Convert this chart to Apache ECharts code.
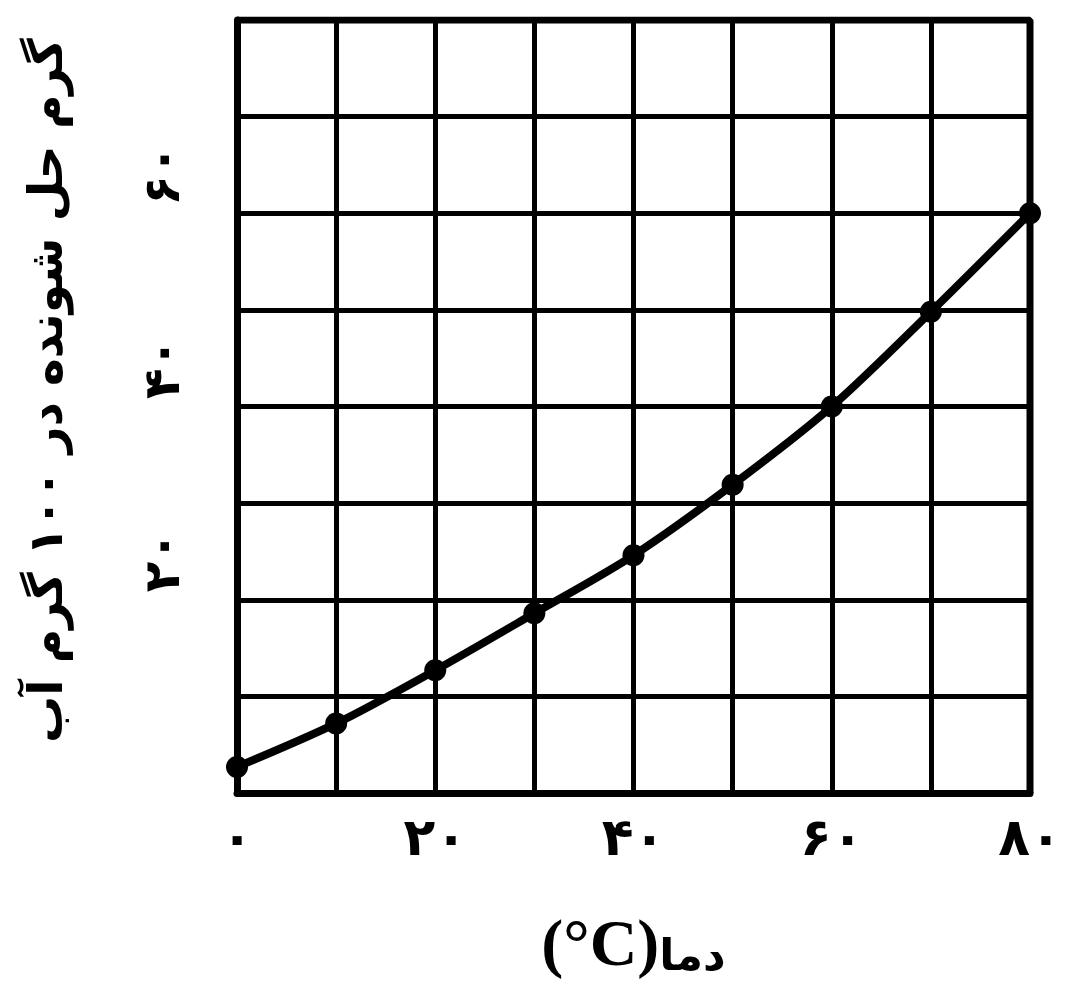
<!DOCTYPE html>
<html>
<head>
<meta charset="utf-8">
<script src="https://cdn.jsdelivr.net/npm/echarts@6/dist/echarts.min.js"></script>
<style>
  html, body { margin: 0; padding: 0; background: #fff; }
  #chart { width: 1089px; height: 992px; }
</style>
</head>
<body>
<div id="chart"></div>
<script>
  // دما (°C)
  var temps = [0, 10, 20, 30, 40, 50, 60, 70, 80];
  // گرم حل شونده در ۱۰۰ گرم آب
  var solubility = [2.7, 7.2, 12.7, 18.6, 24.6, 31.9, 40, 49.8, 60];
  // برچسب محورها (ارقام فارسی)
  var xTickLabels = {0: '۰', 20: '۲۰', 40: '۴۰', 60: '۶۰', 80: '۸۰'};
  var yTickLabels = {20: '۲۰', 40: '۴۰', 60: '۶۰'};

  var chart = echarts.init(document.getElementById('chart'));

  var option = {
    backgroundColor: '#fff',
    animation: false,
    grid: {left: 237, right: 59, top: 20, bottom: 199},
    xAxis: {
      type: 'value',
      min: 0,
      max: 80,
      interval: 10,
      name: '{a|(°C)}{b|دما}',
      nameLocation: 'middle',
      nameGap: 122,
      nameTextStyle: {
        rich: {
          a: {fontFamily: 'Liberation Serif', fontWeight: 'bold', fontSize: 66, color: '#000'},
          b: {fontFamily: 'DejaVu Sans', fontWeight: 'bold', fontSize: 44, color: '#000', verticalAlign: 'bottom'}
        }
      },
      axisLine: {show: true, lineStyle: {color: '#000', width: 7}},
      axisTick: {show: false},
      splitLine: {show: true, lineStyle: {color: '#000', width: 5}},
      axisLabel: {
        margin: 22,
        fontFamily: 'DejaVu Sans',
        fontWeight: 'bold',
        fontSize: 52,
        color: '#000',
        formatter: function (v) { return xTickLabels[v] || ''; }
      }
    },
    yAxis: {
      type: 'value',
      min: 0,
      max: 80,
      interval: 10,
      name: 'گرم حل شونده در ۱۰۰ گرم آب',
      nameLocation: 'middle',
      nameRotate: 90,
      nameGap: 164,
      nameTextStyle: {
        fontFamily: 'DejaVu Sans',
        fontWeight: 'bold',
        fontSize: 47,
        color: '#000',
        padding: [0, 0, 0, 32]
      },
      axisLine: {show: true, lineStyle: {color: '#000', width: 7}},
      axisTick: {show: false},
      splitLine: {show: true, lineStyle: {color: '#000', width: 5}},
      axisLabel: {
        rotate: 90,
        margin: 46,
        padding: [0, 0, 0, 76],
        fontFamily: 'DejaVu Sans',
        fontWeight: 'bold',
        fontSize: 50,
        color: '#000',
        formatter: function (v) { return yTickLabels[v] || ''; }
      }
    },
    series: [{
      type: 'line',
      data: temps.map(function (t, i) { return [t, solubility[i]]; }),
      smooth: 0.3,
      symbol: 'circle',
      symbolSize: 22,
      lineStyle: {color: '#000', width: 8},
      itemStyle: {color: '#000'},
      z: 5
    }, {
      // قاب بالا و راست نمودار
      type: 'line',
      data: [[0, 80], [80, 80], [80, 0]],
      symbol: 'none',
      lineStyle: {color: '#000', width: 7},
      silent: true,
      z: 4
    }]
  };

  chart.setOption(option);
</script>
</body>
</html>
